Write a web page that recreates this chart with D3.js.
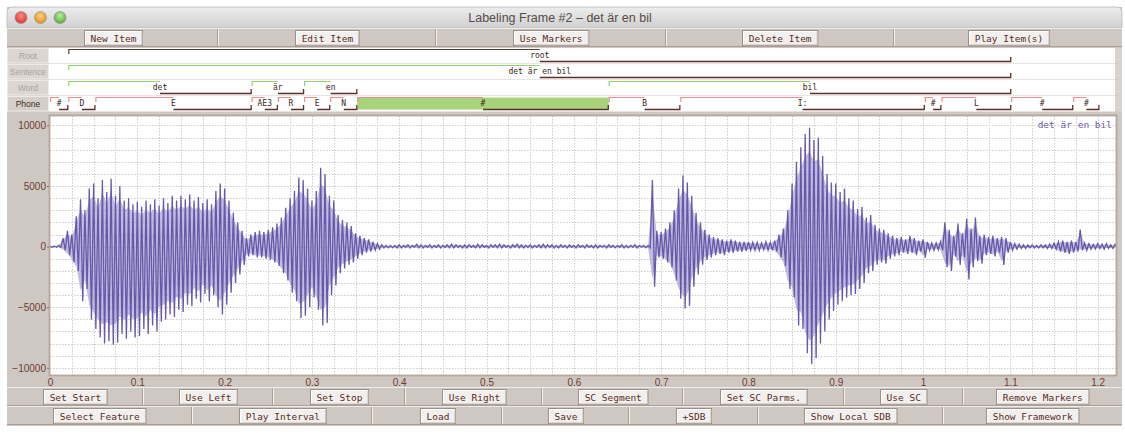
<!DOCTYPE html>
<html>
<head>
<meta charset="utf-8">
<script src="https://cdn.jsdelivr.net/npm/d3@7"></script>
<style>
body { margin: 0; background: #fff; }
svg text { font-family: "DejaVu Sans Mono", monospace; }
</style>
</head>
<body>
<div id="chart"></div>
<script>
// ---- data ----
const title = 'Labeling Frame #2 \u2013 det är en bil'
const topButtons = ['New Item', 'Edit Item', 'Use Markers', 'Delete Item', 'Play Item(s)']
const bottomButtons1 = ['Set Start', 'Use Left', 'Set Stop', 'Use Right', 'SC Segment', 'Set SC Parms.', 'Use SC', 'Remove Markers']
const bottomButtons2 = ['Select Feature', 'Play Interval', 'Load', 'Save', '+SDB', 'Show Local SDB', 'Show Framework']

const tierNames = ['Root', 'Sentence', 'Word', 'Phone']

const rootLabels = ['root']
const rootStarts = [0.021]
const rootEnds = [1.101]

const sentenceLabels = ['det är en bil']
const sentenceStarts = [0.021]
const sentenceEnds = [1.101]

const wordLabels = ['det', 'är', 'en', 'bil']
const wordStarts = [0.021, 0.231, 0.291, 0.640]
const wordEnds = [0.231, 0.291, 0.352, 1.101]

const phoneLabels = ['#', 'D', 'E', 'AE3', 'R', 'E', 'N', '#', 'B', 'I:', '#', 'L', '#', '#']
const phoneBounds = [0, 0.021, 0.052, 0.231, 0.261, 0.291, 0.321, 0.352, 0.640, 0.722, 1.002, 1.021, 1.101, 1.172, 1.202]
const selectedPhone = 7

const xTicks = [0, 0.1, 0.2, 0.3, 0.4, 0.5, 0.6, 0.7, 0.8, 0.9, 1, 1.1, 1.2]
const xTickLabels = ['0', '0.1', '0.2', '0.3', '0.4', '0.5', '0.6', '0.7', '0.8', '0.9', '1', '1.1', '1.2']
const yTicks = [-10000, -5000, 0, 5000, 10000]
const legendText = 'det är en bil'

// waveform envelope, one pair every 5 ms starting at 0 s
const wavStep = 0.005
const wavMax = [
  50, 50, 100, 700, 1300, 1000, 2500, 3900, 3000, 4800, 5200, 4000, 5500, 4500, 5600, 4200, 5000, 3800, 4000, 3500,
  3700, 3300, 3800, 3500, 3900, 3400, 4000, 3600, 4200, 3800, 4200, 3900, 4300, 3800, 4100, 3600, 3900, 3500, 4600, 5200,
  4800, 3800, 2800, 2000, 1300, 700, 1000, 1200, 1300, 1200, 1400, 1600, 1900, 2400, 3200, 4000, 4600, 5700, 5500, 4800,
  3800, 4600, 6500, 6000, 4200, 3800, 2600, 2200, 2000, 1700, 1100, 900, 700, 600, 400, 250, 150, 100, 100, 100,
  150, 100, 150, 100, 200, 150, 100, 150, 100, 150, 100, 150, 200, 150, 100, 150, 150, 100, 200, 150,
  100, 150, 150, 200, 150, 100, 150, 200, 150, 100, 150, 100, 150, 200, 150, 150, 100, 150, 100, 150,
  100, 150, 100, 150, 100, 150, 100, 100, 150, 100, 100, 150, 100, 100, 150, 100, 100, 100, 5500, 1300,
  1200, 1500, 2000, 3000, 4800, 5900, 5300, 4200, 2800, 2000, 1400, 1000, 800, 700, 600, 500, 600, 500, 400, 400,
  400, 350, 350, 300, 400, 350, 500, 1000, 1500, 3000, 5200, 7000, 8200, 9300, 9800, 8800, 9000, 7500, 6000, 5300,
  5200, 4500, 4800, 4000, 3800, 3100, 3300, 2400, 2600, 1800, 1500, 1400, 1100, 900, 700, 800, 600, 900, 700, 500,
  600, 400, 300, 300, 400, 2000, 1400, 900, 1900, 1100, 2300, 1500, 2400, 900, 1000, 800, 900, 700, 800, 700,
  400, 250, 200, 150, 150, 150, 100, 150, 150, 200, 300, 400, 500, 400, 500, 400, 1400, 300, 250, 200, 250, 200, 250, 150, 200
]
const wavMin = [
  -50, -50, -50, -300, -700, -1300, -2000, -4500, -3500, -6000, -6800, -7500, -8000, -7800, -8100, -7900, -7200, -7600, -7000, -7500,
  -7400, -6800, -7200, -6500, -7000, -6200, -6000, -5600, -5800, -5200, -5400, -4800, -4900, -4300, -4600, -3900, -4500, -4000, -5000, -5600,
  -4800, -3800, -3000, -2300, -1500, -800, -700, -900, -900, -1000, -1100, -1300, -1600, -2200, -2800, -3800, -4500, -5900, -5700, -5000,
  -4200, -5200, -6500, -6300, -4000, -3200, -2200, -1800, -1500, -1300, -1000, -700, -500, -400, -300, -200, -100, -100, -100, -100,
  -100, -50, -100, -50, -100, -100, -50, -100, -50, -100, -50, -100, -100, -50, -100, -100, -50, -100, -100, -50,
  -100, -50, -100, -100, -50, -100, -50, -100, -100, -50, -100, -50, -100, -100, -50, -100, -100, -50, -100, -50,
  -100, -50, -100, -50, -100, -100, -50, -100, -50, -100, -50, -100, -100, -50, -100, -50, -100, -100, -3300, -900,
  -1000, -1300, -1700, -2800, -4300, -5100, -4900, -3300, -2300, -1500, -1100, -900, -700, -600, -700, -500, -500, -400, -400, -350,
  -300, -300, -300, -250, -300, -300, -400, -900, -1600, -3500, -4200, -6500, -6800, -8800, -9700, -9200, -8000, -7000, -6000, -5300,
  -4800, -4500, -4200, -4000, -3900, -3500, -3000, -2200, -2000, -1500, -1300, -1400, -1000, -800, -700, -500, -600, -500, -700, -400,
  -900, -300, -300, -250, -300, -1700, -2000, -800, -1500, -900, -2700, -1700, -1200, -1400, -700, -600, -800, -500, -1500, -500,
  -300, -200, -150, -150, -100, -100, -100, -100, -150, -150, -200, -400, -500, -600, -500, -400, -300, -300, -200, -200, -150, -200, -150, -150, -150
]

// ---- layout ----
const width = 1125
const height = 433
const plot = { left: 50, right: 1116, top: 116, bottom: 375 }
const brown = '#6e3b31'
const panelGrey = '#cfc8c2'

const svg = d3.select('#chart')
  .append('svg')
  .attr('width', width)
  .attr('height', height)

const defs = svg.append('defs')

const titleGrad = defs.append('linearGradient').attr('id', 'titleGrad')
  .attr('x1', 0).attr('x2', 0).attr('y1', 0).attr('y2', 1)
titleGrad.append('stop').attr('offset', '0%').attr('stop-color', '#ededed')
titleGrad.append('stop').attr('offset', '100%').attr('stop-color', '#d0d0d0')

const lightColors = [['red', '#ff8a80', '#d8362e'], ['amber', '#ffd080', '#e0901c'], ['green', '#b8f0a0', '#56a83a']]
lightColors.forEach(([id, c1, c2]) => {
  const g = defs.append('radialGradient').attr('id', 'light-' + id)
    .attr('cx', '50%').attr('cy', '35%').attr('r', '65%')
  g.append('stop').attr('offset', '0%').attr('stop-color', c1)
  g.append('stop').attr('offset', '100%').attr('stop-color', c2)
})

defs.append('clipPath').attr('id', 'plotClip')
  .append('rect')
  .attr('x', plot.left).attr('y', plot.top)
  .attr('width', plot.right - plot.left).attr('height', plot.bottom - plot.top)

// window body
svg.append('rect')
  .attr('x', 7).attr('y', 7).attr('width', 1115).attr('height', 419)
  .attr('fill', panelGrey)

// title bar
svg.append('path')
  .attr('d', 'M7,28V13Q7,7 13,7H1116Q1122,7 1122,13V28Z')
  .attr('fill', 'url(#titleGrad)')
  .attr('stroke', '#b9b9b9')
  .attr('stroke-width', 0.8)

svg.selectAll('.light')
  .data(lightColors)
  .enter()
  .append('circle')
  .attr('class', 'light')
  .attr('cx', (d, i) => 21 + i * 19.5)
  .attr('cy', 17.5)
  .attr('r', 6)
  .attr('fill', d => 'url(#light-' + d[0] + ')')
  .attr('stroke', '#8a8a8a')
  .attr('stroke-width', 0.6)

svg.append('text')
  .attr('x', 560).attr('y', 22)
  .attr('text-anchor', 'middle')
  .style('font-family', '"Liberation Sans", Arial, sans-serif')
  .style('font-size', '12.5px')
  .attr('fill', '#574c46')
  .text(title)

// ---- button rows ----
function buttonRow(labels, cells, top, bottom) {
  const g = svg.append('g')
  g.append('line').attr('x1', 7).attr('x2', 1122).attr('y1', top + 0.5).attr('y2', top + 0.5).attr('stroke', '#efebe8')
  g.append('line').attr('x1', 7).attr('x2', 1122).attr('y1', bottom - 0.5).attr('y2', bottom - 0.5).attr('stroke', '#a99d95')
  cells.slice(1, -1).forEach(cx => {
    g.append('line').attr('x1', cx - 0.5).attr('x2', cx - 0.5).attr('y1', top + 1).attr('y2', bottom - 1).attr('stroke', '#a99d95')
    g.append('line').attr('x1', cx + 0.5).attr('x2', cx + 0.5).attr('y1', top + 1).attr('y2', bottom - 1).attr('stroke', '#f4f0ec')
  })
  const cy = (top + bottom) / 2
  labels.forEach((label, i) => {
    const mid = (cells[i] + cells[i + 1]) / 2
    const w = label.length * 5.75 + 12
    const h = 15
    const b = g.append('g').attr('transform', `translate(${Math.round(mid - w / 2)},${Math.round(cy - h / 2)})`)
    b.append('rect').attr('x', 0.5).attr('y', 0.5).attr('width', w).attr('height', h)
      .attr('fill', '#f2f0ee').attr('stroke', '#9c8f88')
    b.append('path').attr('d', `M1.5,${h - 0.5}V1.5H${w - 0.5}`).attr('fill', 'none').attr('stroke', '#ffffff')
    b.append('path').attr('d', `M2,${h}H${w}V2`).attr('fill', 'none').attr('stroke', '#c6bcb6')
    b.append('text')
      .attr('x', w / 2 + 0.5).attr('y', h / 2 + 4)
      .attr('text-anchor', 'middle')
      .style('font-size', '9.5px')
      .attr('fill', '#5a2c22')
      .text(label)
  })
}

buttonRow(topButtons, [7, 218, 436, 666, 894, 1122], 28, 47)
buttonRow(bottomButtons1, [7, 143, 273, 405, 542, 683, 844, 963, 1122], 387, 406)
buttonRow(bottomButtons2, [7, 192, 372, 502, 629, 758, 943, 1122], 406, 425)

// ---- scales ----
const x = d3.scaleLinear().domain([0, 1.221]).range([plot.left, plot.right])
const y = d3.scaleLinear().domain([-10590, 10780]).range([plot.bottom, plot.top])

// ---- label tiers ----
const tierTop = [48, 64, 80, 96]
const tierData = [
  { labels: rootLabels, starts: rootStarts, ends: rootEnds, color: '#5b3a32' },
  { labels: sentenceLabels, starts: sentenceStarts, ends: sentenceEnds, color: '#8fd46c' },
  { labels: wordLabels, starts: wordStarts, ends: wordEnds, color: '#8fd46c' },
  { labels: phoneLabels, starts: phoneBounds.slice(0, -1), ends: phoneBounds.slice(1), color: '#f08c8c' }
]

tierData.forEach((tier, ti) => {
  const T = tierTop[ti]
  const g = svg.append('g').attr('class', 'tier')

  g.append('rect').attr('x', 7.5).attr('y', T + 0.5).attr('width', 41).attr('height', 14.5)
    .attr('fill', ti === 3 ? '#d6cfc9' : '#dcd6d1').attr('stroke', '#eeeae6')
  g.append('text')
    .attr('x', 28).attr('y', T + 10.5)
    .attr('text-anchor', 'middle')
    .style('font-family', '"Liberation Sans", Arial, sans-serif')
    .style('font-size', '8.5px')
    .attr('fill', ti === 3 ? '#3e2c24' : '#aaa199')
    .text(tierNames[ti])

  g.append('rect').attr('x', 49).attr('y', T).attr('width', 1066).attr('height', 15.5).attr('fill', '#fff')

  const segs = tier.labels.map((label, i) => ({ label, s: tier.starts[i], e: tier.ends[i], i }))

  if (ti === 3) {
    const sel = segs[selectedPhone]
    g.append('rect')
      .attr('x', x(sel.s)).attr('y', T + 1.5)
      .attr('width', x(sel.e) - x(sel.s)).attr('height', 12)
      .attr('fill', '#a8d37b')
  }

  g.selectAll('.top-line')
    .data(segs)
    .enter()
    .append('path')
    .attr('d', d => {
      const xs = x(d.s), xm = (x(d.s) + x(d.e)) / 2
      return `M${xs + 0.5},${T + 6}V${T + 1.5}H${xm}`
    })
    .attr('fill', 'none')
    .attr('stroke', tier.color)
    .attr('stroke-width', 1.2)

  g.selectAll('.bottom-line')
    .data(segs)
    .enter()
    .append('path')
    .attr('d', d => {
      const xe = x(d.e), xm = (x(d.s) + x(d.e)) / 2
      return `M${xm},${T + 13.5}H${xe - 0.5}V${T + 9}`
    })
    .attr('fill', 'none')
    .attr('stroke', '#5b2f27')
    .attr('stroke-width', 1.3)

  g.selectAll('.seg-label')
    .data(segs)
    .enter()
    .append('text')
    .attr('x', d => (x(d.s) + x(d.e)) / 2)
    .attr('y', T + 9.5)
    .attr('text-anchor', 'middle')
    .style('font-size', '8px')
    .attr('fill', '#3a2620')
    .text(d => d.label)

  g.append('rect').attr('x', 1115).attr('y', T).attr('width', 7).attr('height', 15.5).attr('fill', '#d9d3ce')
})

// ---- waveform plot ----
svg.append('rect')
  .attr('x', plot.left).attr('y', plot.top)
  .attr('width', plot.right - plot.left).attr('height', plot.bottom - plot.top)
  .attr('fill', '#fff')

const grid = svg.append('g').attr('clip-path', 'url(#plotClip)')
grid.selectAll('.vgrid')
  .data(d3.range(1, 49).map(i => i * 0.025))
  .enter()
  .append('line')
  .attr('x1', d => Math.round(x(d)) + 0.5).attr('x2', d => Math.round(x(d)) + 0.5)
  .attr('y1', plot.top).attr('y2', plot.bottom)
  .attr('stroke', '#cfcac6')
  .attr('stroke-dasharray', '1.5,1.5')
grid.selectAll('.hgrid')
  .data(d3.range(-10, 11).map(i => i * 1000))
  .enter()
  .append('line')
  .attr('y1', d => Math.round(y(d)) + 0.5).attr('y2', d => Math.round(y(d)) + 0.5)
  .attr('x1', plot.left).attr('x2', plot.right)
  .attr('stroke', '#cfcac6')
  .attr('stroke-dasharray', '1.5,1.5')

const wav = wavMax.map((mx, i) => ({ t: i * wavStep, max: mx, min: wavMin[i] }))

const waveG = svg.append('g').attr('clip-path', 'url(#plotClip)')

waveG.append('path')
  .datum(wav)
  .attr('d', d3.area().x(d => x(d.t)).y0(d => y(d.min * 0.8)).y1(d => y(d.max * 0.8)))
  .attr('fill', '#8f86c6')
  .attr('opacity', 0.55)

const zig = []
wav.forEach(d => {
  zig.push([d.t, d.max])
  zig.push([d.t + wavStep / 2, d.min])
})
waveG.append('path')
  .datum(zig)
  .attr('d', d3.line().x(d => x(d[0])).y(d => y(d[1])))
  .attr('fill', 'none')
  .attr('stroke', '#6659a9')
  .attr('stroke-width', 1.3)

svg.append('text')
  .attr('x', 1112).attr('y', 128)
  .attr('text-anchor', 'end')
  .style('font-size', '9.5px')
  .attr('fill', '#6a5eab')
  .text(legendText)

svg.append('rect')
  .attr('x', plot.left - 0.5).attr('y', plot.top - 0.5)
  .attr('width', plot.right - plot.left + 1).attr('height', plot.bottom - plot.top + 1)
  .attr('fill', 'none')
  .attr('stroke', '#b5a79e')
  .attr('stroke-width', 1.8)

// axes
const yAxis = svg.append('g')
  .attr('transform', `translate(${plot.left - 1},0)`)
  .call(d3.axisLeft(y).tickValues(yTicks).tickFormat(d3.format('d')).tickSize(2).tickPadding(1))
yAxis.select('.domain').remove()
yAxis.selectAll('line').attr('stroke', '#8d6c62')
yAxis.selectAll('text')
  .style('font-family', '"Liberation Sans", Arial, sans-serif')
  .style('font-size', '10px')
  .attr('fill', brown)

const xAxis = svg.append('g')
  .attr('transform', `translate(0,${plot.bottom})`)
  .call(d3.axisBottom(x).tickValues(xTicks).tickFormat((d, i) => xTickLabels[i]).tickSize(0).tickPadding(4))
xAxis.select('.domain').remove()
xAxis.selectAll('text')
  .style('font-family', '"Liberation Sans", Arial, sans-serif')
  .style('font-size', '10px')
  .attr('fill', brown)
</script>
</body>
</html>
